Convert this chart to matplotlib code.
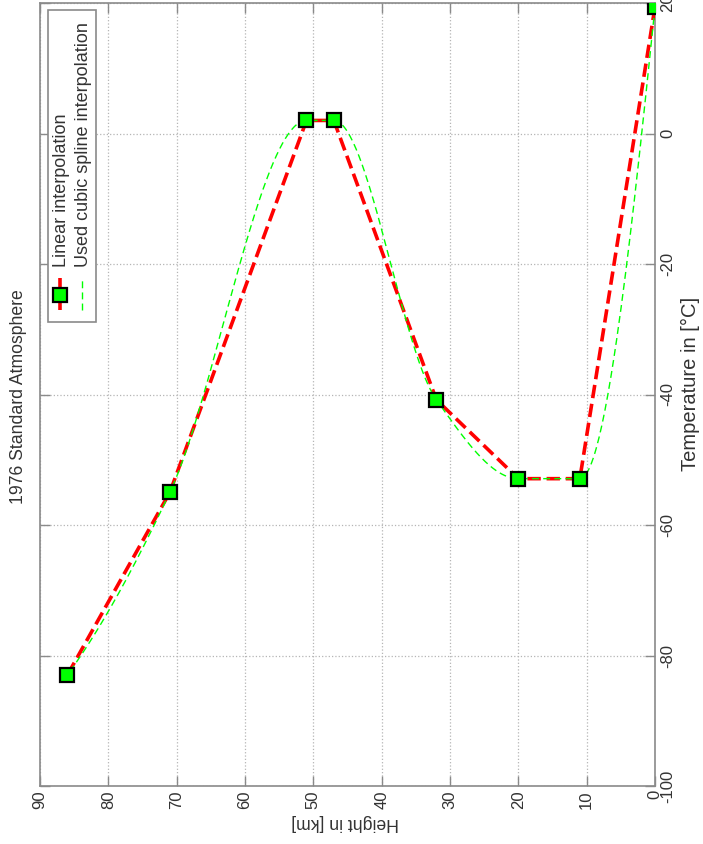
"""
1976 Standard Atmosphere: temperature vs. height, linear and cubic
(shape-preserving) interpolation, laid out in landscape turned on its side.
"""
import numpy as np
import matplotlib
matplotlib.use("Agg")
import matplotlib.pyplot as plt
from matplotlib.lines import Line2D
from matplotlib.patches import Rectangle

# layer boundaries of the standard atmosphere
height_km = [0, 11, 20, 32, 47, 51, 71, 86]
temp_c = [19.4, -52.9, -52.9, -40.8, 2.0, 2.0, -55.0, -83.0]

height_ticks = [0, 10, 20, 30, 40, 50, 60, 70, 80, 90]
temp_ticks = [-100, -80, -60, -40, -20, 0, 20]

W, H = 703, 844


def pchip(x, y, xs):
    """Piecewise cubic Hermite interpolation (interp1 'cubic')."""
    x = np.asarray(x, float)
    y = np.asarray(y, float)
    n = len(x)
    h = np.diff(x)
    d = np.diff(y) / h
    s = np.zeros(n)
    for k in range(1, n - 1):
        if np.sign(d[k - 1]) * np.sign(d[k]) > 0:
            w1 = 2 * h[k] + h[k - 1]
            w2 = h[k] + 2 * h[k - 1]
            s[k] = (w1 + w2) / (w1 / d[k - 1] + w2 / d[k])

    def end_slope(h0, h1, d0, d1):
        e = ((2 * h0 + h1) * d0 - h0 * d1) / (h0 + h1)
        if np.sign(e) != np.sign(d0):
            e = 0.0
        elif np.sign(d0) != np.sign(d1) and abs(e) > abs(3 * d0):
            e = 3 * d0
        return e

    s[0] = end_slope(h[0], h[1], d[0], d[1])
    s[-1] = end_slope(h[-1], h[-2], d[-1], d[-2])

    idx = np.clip(np.searchsorted(x, xs) - 1, 0, n - 2)
    hh = h[idx]
    t = (xs - x[idx]) / hh
    h00 = 2 * t**3 - 3 * t**2 + 1
    h10 = t**3 - 2 * t**2 + t
    h01 = -2 * t**3 + 3 * t**2
    h11 = t**3 - t**2
    return (h00 * y[idx] + h10 * hh * s[idx]
            + h01 * y[idx + 1] + h11 * hh * s[idx + 1])


def fx(px):
    return px / W


def fy(py):
    return 1 - py / H


plt.rcParams['font.family'] = ['Liberation Sans', 'DejaVu Sans']
plt.rcParams['axes.unicode_minus'] = False

fig = plt.figure(figsize=(W / 100, H / 100), dpi=100)
ax = fig.add_axes([fx(40), fy(786), fx(655) - fx(40), fy(3) - fy(786)])

frame_col = '#8a8a8a'
text_col = '#333333'

hs = np.linspace(height_km[0], height_km[-1], 400)
ts = pchip(height_km, temp_c, hs)

ax.plot(height_km, temp_c, color='red', lw=2.6, ls='--', zorder=3)
ax.plot(hs, ts, color='#00ff00', lw=1.0, dashes=(5, 3), zorder=4)
ax.plot(height_km, temp_c, ls='none', marker='s', ms=9.5,
        mfc='#00ff00', mec='black', mew=1.6, zorder=5)

ax.set_xlim(90, 0)
ax.set_ylim(-100, 20)
ax.set_xticks(height_ticks)
ax.set_yticks(temp_ticks)
ax.grid(True, ls=':', color='#b5b5b5', lw=0.9)
ax.tick_params(direction='in', length=7, width=1, color=frame_col,
               labelsize=12, labelcolor=text_col,
               top=True, right=True, left=True, bottom=True,
               labelleft=False, labelright=True)
ax.tick_params(axis='x', pad=3)
ax.tick_params(axis='y', pad=4)
for spine in ax.spines.values():
    spine.set_color(frame_col)
    spine.set_linewidth(1.2)
for lab in ax.get_xticklabels():
    lab.set_rotation(90)
for lab in ax.get_yticklabels():
    lab.set_rotation(90)
    lab.set_va('center')

# axis titles, turned with the rest of the page
fig.text(fx(345), fy(822), 'Height in [km]', rotation=180, ha='center',
         va='center', fontsize=12.7, color=text_col)
fig.text(fx(690), fy(384), 'Temperature in [°C]', rotation=90,
         ha='center', va='center', fontsize=14.5, color=text_col)
fig.text(fx(19), fy(397), '1976 Standard Atmosphere', rotation=90,
         ha='center', va='center', fontsize=12.7, color=text_col)

# legend box, drawn by hand so it can be turned sideways
fig.patches.append(Rectangle((fx(48), fy(322)), fx(96) - fx(48),
                             fy(10) - fy(322), transform=fig.transFigure,
                             facecolor='white', edgecolor=frame_col, lw=1.2,
                             zorder=6))
fig.lines.append(Line2D([fx(60), fx(60)], [fy(310), fy(278)],
                        transform=fig.transFigure, color='red', lw=2.6,
                        ls='--', zorder=7))
fig.lines.append(Line2D([fx(60)], [fy(295)], transform=fig.transFigure,
                        ls='none', marker='s', ms=9.5, mfc='#00ff00',
                        mec='black', mew=1.6, zorder=8))
fig.lines.append(Line2D([fx(82), fx(82)], [fy(310), fy(278)],
                        transform=fig.transFigure, color='#00ff00', lw=1.0,
                        dashes=(5, 3), zorder=7))
fig.text(fx(62), fy(267), 'Linear interpolation', rotation=90,
         rotation_mode='anchor', ha='left', va='center', fontsize=13,
         color=text_col, zorder=8)
fig.text(fx(83), fy(267), 'Used cubic spline interpolation', rotation=90,
         rotation_mode='anchor', ha='left', va='center', fontsize=13,
         color=text_col, zorder=8)

fig.savefig('out.png', dpi=100, facecolor='white')
